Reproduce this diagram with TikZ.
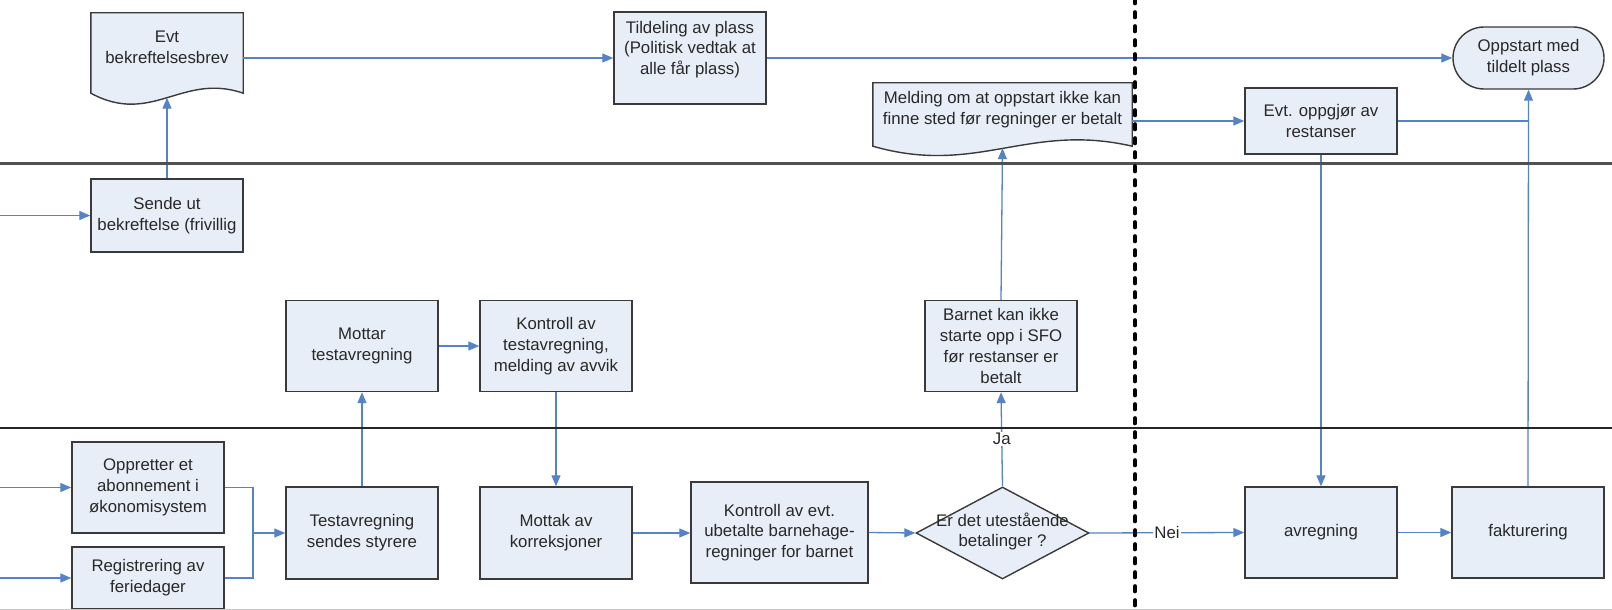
\documentclass[tikz,border=0pt]{standalone}
\usepackage{fontspec}
\setmainfont{Liberation Sans}
\usetikzlibrary{arrows.meta,shapes.geometric,calc}
\definecolor{boxfill}{RGB}{232,238,247}
\definecolor{boxline}{RGB}{58,58,58}
\definecolor{flow}{RGB}{84,132,198}
\definecolor{ink}{RGB}{40,40,40}
\definecolor{lanedark}{RGB}{80,80,80}
\definecolor{frameline}{RGB}{200,200,200}

\begin{document}
\begin{tikzpicture}[x=1pt,y=-1pt,
  every node/.style={font=\fontsize{16.8}{20.7}\selectfont, text=ink},
  box/.style={draw=boxline, fill=boxfill, line width=1.4pt, align=center,
    inner sep=1pt, minimum width=152pt, minimum height=91pt},
  frame/.style={draw=none, fill=none, inner sep=0pt},
  shapeline/.style={draw=boxline, fill=boxfill, line width=1.4pt},
  txt/.style={align=center, inner sep=0pt},
  conn/.style={draw=flow, line width=1.3pt, -{Triangle[length=11pt,width=9pt]}},
  plain/.style={draw=flow, line width=1.3pt},
  tag/.style={fill=white, inner sep=1pt},
  lanea/.style={draw=lanedark, line width=2.6pt},
  laneb/.style={draw=black!85, line width=1.6pt},
  phase/.style={draw=black, line width=3.6pt, line cap=round, dash pattern=on 5.5pt off 8.5pt}
]
\useasboundingbox (0,0) rectangle (1612,610);
\clip (0,0) rectangle (1612,610);
\fill[white] (0,0) rectangle (1612,610);

% ---- top lane ----
\node[frame, minimum width=152pt, minimum height=80pt] (evt) at (167,53) {};
\draw[shapeline] (evt.north west) -- (evt.north east) -- (evt.south east)
  .. controls +(-61,-21) and +(61,33) .. (evt.south west) -- cycle;
\node[txt] (evtt) at ([yshift=5.5pt]evt.center) {Evt\\bekreftelsesbrev};

\node[box, minimum height=92pt] (til) at (690,58)
  {Tildeling av plass\\(Politisk vedtak at\\alle får plass)\\~};

\node[frame, minimum width=259pt, minimum height=63pt] (mel) at (1002.5,114.5) {};
\draw[shapeline] (mel.north west) -- (mel.north east) -- (mel.south east)
  .. controls +(-104,-24) and +(104,30) .. (mel.south west) -- cycle;
\node[txt] (melt) at ([yshift=4.5pt]mel.center)
  {Melding om at oppstart ikke kan\\finne sted før regninger er betalt};

\node[box, minimum height=66pt] (opp) at (1321,121) {Evt. oppgjør av\\restanser};
\node[box, rounded corners=31pt, minimum width=151pt, minimum height=62pt]
  (start) at (1528.5,58) {Oppstart med\\tildelt plass};

% ---- second lane ----
\node[box, minimum height=73pt] (sende) at (167,215.5) {Sende ut\\bekreftelse (frivillig};

% ---- third lane ----
\node[box] (mottar) at (362,346) {Mottar\\testavregning};
\node[box] (kontA) at (556,346) {Kontroll av\\testavregning,\\melding av avvik};
\node[box] (barnet) at (1001,346) {Barnet kan ikke\\starte opp i SFO\\før restanser er\\betalt};

% ---- bottom lane ----
\node[box] (oppr) at (148,487.5) {Oppretter et\\abonnement i\\økonomisystem};
\node[box, minimum height=62pt] (reg) at (148,578) {Registrering av\\feriedager};
\node[box, minimum height=92pt] (test) at (362,533) {Testavregning\\sendes styrere};
\node[box, minimum height=92pt] (mottak) at (556,533) {Mottak av\\korreksjoner};
\node[box, minimum width=177pt, minimum height=101pt] (kontB) at (779.5,532.5)
  {Kontroll av evt.\\ubetalte barnehage-\\regninger for barnet};
\node[draw=boxline, fill=boxfill, line width=1.4pt, diamond, inner sep=0pt,
  minimum width=173pt, minimum height=92pt,
  label={[txt, yshift=1.5pt]center:Er det utestående\\betalinger ?}] (dec) at (1002.5,533) {};
\node[box] (avr) at (1321,532.5) {avregning};
\node[box] (fakt) at (1528,532.5) {fakturering};

% ---- connectors ----
\coordinate (inA) at (0,215.5);
\coordinate (inB) at (0,487.5);
\coordinate (inC) at (0,578);
\coordinate (jn) at (253,533);

\draw[conn] (inA) -- (sende.west);
\draw[conn] (sende.north) -- ([yshift=-4.5pt]evt.south);
\draw[conn] (evt.east |- til.west) -- (til.west);
\draw[conn] (til.east) -- (start.west);
\draw[conn] (mel.east |- opp.west) -- (opp.west);
\draw[plain] (opp.east) -- (opp.east -| fakt.north);
\draw[conn] (fakt.north) -- (start.south);
\draw[conn] (opp.south) -- (avr.north);

\draw[conn] (inB) -- (oppr.west);
\draw[conn] (inC) -- (reg.west);
\draw[conn] (oppr.east) -| (jn) -- (test.west);
\draw[plain] (reg.east) -| (jn);
\draw[conn] (test.north) -- (mottar.south);
\draw[conn] (mottar.east |- kontA.west) -- (kontA.west);
\draw[conn] (kontA.south) -- (mottak.north);
\draw[conn] (mottak.east) -- (kontB.west |- mottak.east);
\draw[conn] (kontB.east) -- (dec.west);
\draw[conn] (dec.north) -- node[tag, pos=0.5] (ja) {Ja} (barnet.south);
\draw[conn] (barnet.north) -- ([yshift=-2pt]mel.south);
\draw[conn] (dec.east) -- node[tag, pos=0.5] (nei) {Nei} (avr.west);
\draw[conn] (avr.east) -- (fakt.west);

% ---- lane dividers and phase marker ----
\coordinate (la) at (0,163.5);
\coordinate (lb) at (0,428);
\coordinate (lc) at (0,609.2);
\draw[lanea] (la) -- +(1612,0);
\draw[laneb] (lb) -- +(1612,0);
\draw[frameline, line width=1pt] (lc) -- +(1612,0);
\coordinate (ph) at (1135,-2);
\draw[phase] (ph) -- +(0,616);
\end{tikzpicture}
\end{document}
